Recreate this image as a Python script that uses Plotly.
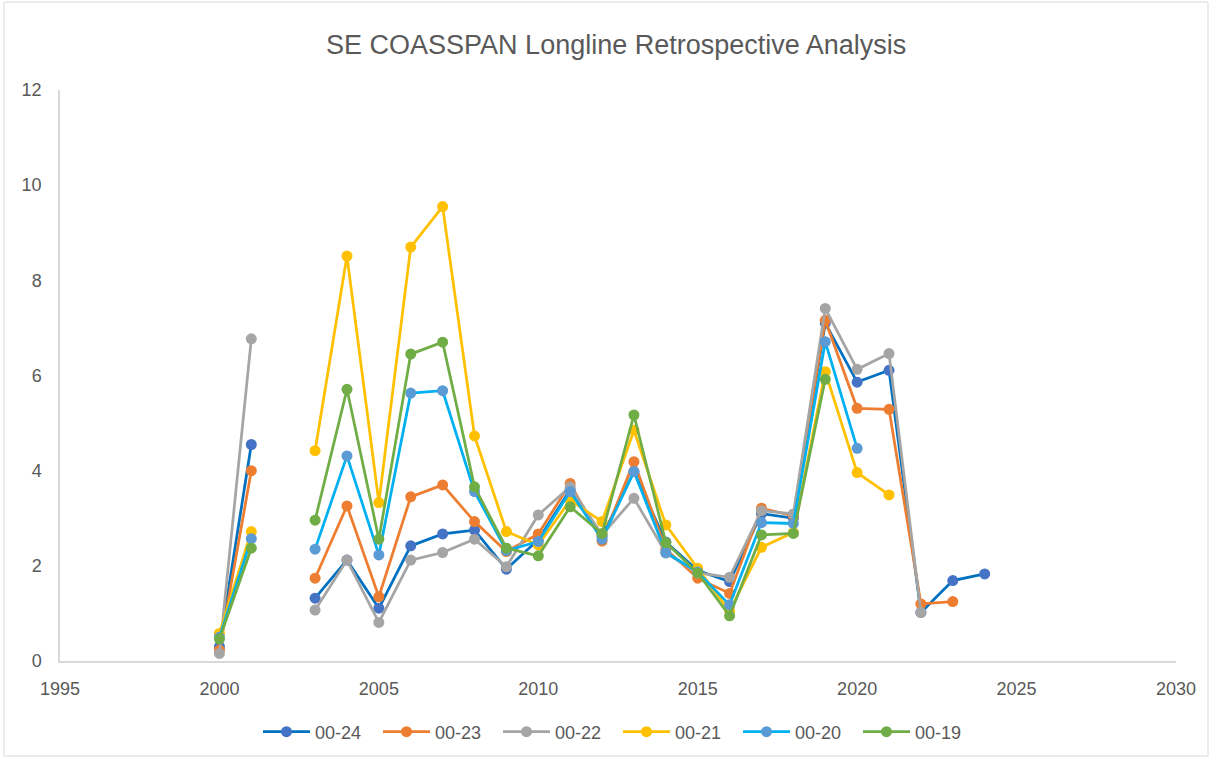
import plotly.graph_objects as go

years = list(range(2000, 2025))

s_00_24 = [0.30, 4.55, None, 1.32, 2.12, 1.11, 2.42, 2.67, 2.75, 1.93, 2.55, 3.60, 2.62, 3.98, 2.50, 1.90, 1.67, 3.10, 3.00, 7.10, 5.86, 6.11, 1.02, 1.69, 1.83]
s_00_23 = [0.23, 4.00, None, 1.74, 3.26, 1.35, 3.45, 3.70, 2.93, 2.30, 2.67, 3.73, 2.52, 4.19, 2.35, 1.74, 1.42, 3.21, 3.05, 7.16, 5.31, 5.29, 1.20, 1.25]
s_00_22 = [0.16, 6.77, None, 1.07, 2.12, 0.81, 2.12, 2.28, 2.56, 1.98, 3.07, 3.66, 2.65, 3.42, 2.27, 1.85, 1.76, 3.16, 3.09, 7.41, 6.13, 6.46, 1.02]
s_00_21 = [0.58, 2.72, None, 4.42, 8.51, 3.33, 8.70, 9.55, 4.73, 2.72, 2.44, 3.38, 2.93, 4.85, 2.86, 1.95, 1.05, 2.39, 2.70, 6.08, 3.96, 3.49]
s_00_20 = [0.50, 2.57, None, 2.35, 4.31, 2.23, 5.63, 5.68, 3.56, 2.32, 2.51, 3.56, 2.56, 3.98, 2.28, 1.87, 1.18, 2.91, 2.89, 6.71, 4.47]
s_00_19 = [0.46, 2.37, None, 2.96, 5.71, 2.56, 6.45, 6.70, 3.66, 2.37, 2.21, 3.24, 2.68, 5.17, 2.49, 1.85, 0.95, 2.65, 2.68, 5.92]

series = [
    ("00-24", s_00_24, "#0070C0", "#4472C4"),
    ("00-23", s_00_23, "#ED7D31", "#ED7D31"),
    ("00-22", s_00_22, "#A5A5A5", "#A5A5A5"),
    ("00-21", s_00_21, "#FFC000", "#FFC000"),
    ("00-20", s_00_20, "#00B0F0", "#5B9BD5"),
    ("00-19", s_00_19, "#70AD47", "#70AD47"),
]

fig = go.Figure()
for name, vals, lc, mc in series:
    fig.add_trace(go.Scatter(
        x=years[:len(vals)], y=vals, name=name, mode="lines+markers",
        line=dict(color=lc, width=2.75),
        marker=dict(color=mc, size=11),
        connectgaps=False,
    ))

W, H = 1213, 759
L, R, T, B = 60, 37, 90, 98
PW, PH = W - L - R, H - T - B

font_family = "Liberation Sans, Noto Sans, sans-serif"
fig.update_layout(
    width=W, height=H,
    paper_bgcolor="white", plot_bgcolor="white",
    margin=dict(l=L, r=R, t=T, b=B),
    title=dict(text="SE COASSPAN Longline Retrospective Analysis", x=0.508, xanchor="center",
               y=1 - 45 / H, yanchor="middle", yref="container",
               font=dict(family=font_family, size=27, color="#595959")),
    font=dict(family=font_family, size=18, color="#595959"),
    showlegend=True,
    legend=dict(orientation="h", x=0.5, xanchor="center",
                yref="container", y=1 - 732 / H, yanchor="middle",
                font=dict(size=18, color="#595959"), itemwidth=47,
                entrywidth=58, entrywidthmode="pixels"),
    xaxis=dict(range=[1995, 2030], tickmode="linear", tick0=1995, dtick=5,
               showgrid=False, zeroline=False, showline=True, linecolor="#D9D9D9", linewidth=1.5,
               ticks="", ticklabelstandoff=11,
               tickfont=dict(size=18, color="#595959")),
    yaxis=dict(range=[0, 12], tickmode="linear", tick0=0, dtick=2,
               showgrid=False, zeroline=False, showline=True, linecolor="#D9D9D9", linewidth=1.5,
               ticks="", ticklabelstandoff=13,
               tickfont=dict(size=18, color="#595959")),
    shapes=[dict(type="rect", xref="paper", yref="paper",
                 x0=(4 - L) / PW, x1=(1208 - L) / PW,
                 y0=-(756 - (T + PH)) / PH, y1=(T + PH - 2) / PH,
                 line=dict(color="#D9D9D9", width=1), fillcolor="rgba(0,0,0,0)", layer="below")],
)

fig.write_html("out.html", config={"displayModeBar": False},
               post_script="document.body.style.margin='0';")
